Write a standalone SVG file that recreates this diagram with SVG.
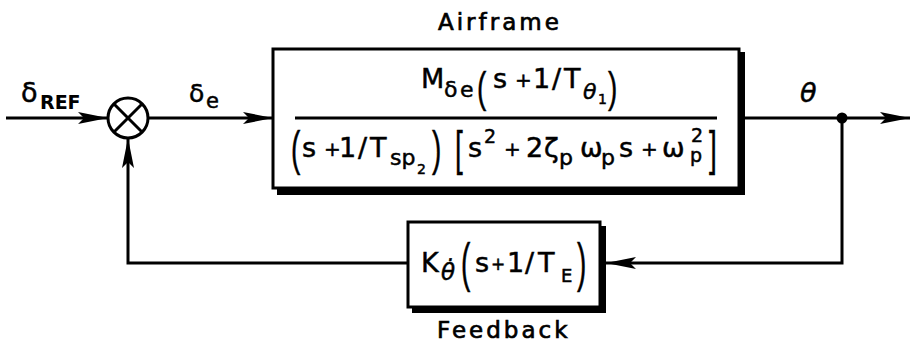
<svg xmlns="http://www.w3.org/2000/svg" width="912" height="346" viewBox="0 0 912 346">
<defs>
<marker id="arr" markerUnits="userSpaceOnUse" markerWidth="32" markerHeight="16" refX="30" refY="8" orient="auto">
<path d="M0,2 L30,8 L0,14 L6,8 Z" fill="#000"/>
</marker>
</defs>
<style>
.ln{fill:none;stroke:#000;stroke-width:3}
.bx{fill:#fff;stroke:#000;stroke-width:3}
text{font-family:"DejaVu Sans","Liberation Sans",sans-serif;fill:#000;stroke:#000;stroke-width:0.5}
.t{font-size:27px}
.s{font-size:22px}
.ss{font-size:14px}
.sp{font-size:19px}
.pl{font-size:20px}
.it{font-style:italic}
.p{font-family:"Liberation Sans","DejaVu Sans",sans-serif;font-size:28px;stroke-width:0.3}
.lab{font-size:23px;letter-spacing:3px;stroke-width:0.7}
</style>
<rect width="912" height="346" fill="#fff"/>
<g id="connectors">
<line class="ln" x1="6" y1="118" x2="108" y2="118" marker-end="url(#arr)"/>
<line class="ln" x1="148" y1="118" x2="273" y2="118" marker-end="url(#arr)"/>
<line class="ln" x1="745" y1="118" x2="910" y2="118" marker-end="url(#arr)"/>
<polyline class="ln" points="842,118 842,263 606,263" marker-end="url(#arr)"/>
<polyline class="ln" points="408,263 128,263 128,138" marker-end="url(#arr)"/>
<circle cx="842" cy="118" r="5.5" fill="#000"/>
</g>
<g id="sum">
<circle cx="128" cy="118" r="20" fill="#fff" stroke="#000" stroke-width="3"/>
<line class="ln" x1="114" y1="104" x2="142" y2="132"/>
<line class="ln" x1="142" y1="104" x2="114" y2="132"/>
</g>
<g id="labels">
<text class="t"><tspan x="21" y="102">δ</tspan><tspan x="40" y="109" font-size="19" font-weight="bold" stroke-width="0">REF</tspan></text>
<text class="t"><tspan x="189" y="102" font-size="25">δ</tspan><tspan x="206" y="108" font-size="21">e</tspan></text>
<text class="t it" x="800" y="102" font-size="30">θ</text>
</g>
<g id="airframe">
<rect class="bx" x="273" y="49" width="466" height="139"/>
<path d="M739,52 H745 V195 H277 V188 H739 Z" fill="#000"/>
<text class="lab" x="438" y="30">Airframe</text>
<line x1="295" y1="118" x2="717" y2="118" stroke="#000" stroke-width="3"/>
<text class="t"><tspan x="421" y="88">M</tspan><tspan class="s" x="444" y="97">δ</tspan><tspan class="s" x="460" y="97">e</tspan><tspan x="493" y="88">s</tspan><tspan class="pl" x="515" y="87">+</tspan><tspan x="533" y="88">1</tspan><tspan x="552" y="88">/</tspan><tspan x="564" y="88">T</tspan><tspan class="s it" x="583" y="99">θ</tspan><tspan class="ss" x="598" y="104">1</tspan></text>
<text class="p" transform="translate(477,101.6) scale(1,1.55)">(</text>
<text class="p" transform="translate(608,101.6) scale(1,1.55)">)</text>
<text class="t"><tspan x="302" y="157">s</tspan><tspan class="pl" x="324" y="156">+</tspan><tspan x="339" y="157">1</tspan><tspan x="358" y="157">/</tspan><tspan x="370" y="157">T</tspan><tspan class="s" x="390" y="165">sp</tspan><tspan class="ss" x="417" y="174">2</tspan><tspan x="468" y="157">s</tspan><tspan class="sp" x="484" y="143">2</tspan><tspan class="pl" x="504" y="156">+</tspan><tspan x="526" y="157">2</tspan><tspan x="544" y="157">ζ</tspan><tspan class="s" x="559" y="165">p</tspan><tspan x="580" y="157">ω</tspan><tspan class="s" x="601" y="165">p</tspan><tspan x="619" y="157">s</tspan><tspan class="pl" x="641" y="156">+</tspan><tspan x="662" y="157">ω</tspan><tspan class="sp" x="691" y="142">2</tspan><tspan class="sp" x="690" y="162">p</tspan></text>
<text class="p" transform="translate(291,164.7) scale(1,1.7)">(</text>
<text class="p" transform="translate(432,164.7) scale(1,1.7)">)</text>
<text class="p" transform="translate(455,164.7) scale(1,1.7)">[</text>
<text class="p" transform="translate(709,164.7) scale(1,1.7)">]</text>
</g>
<g id="feedback">
<rect class="bx" x="408" y="222" width="192" height="85"/>
<path d="M600,226 H606 V313 H412 V307 H600 Z" fill="#000"/>
<text class="t"><tspan x="421" y="272">K</tspan><tspan class="it" font-size="23" x="441" y="280">θ̇</tspan><tspan x="475" y="272">s</tspan><tspan font-size="17" x="491" y="270">+</tspan><tspan x="507" y="272">1</tspan><tspan x="525" y="272">/</tspan><tspan x="538" y="272">T</tspan><tspan font-size="18" x="561" y="282">E</tspan></text>
<text class="p" transform="translate(461,280.8) scale(1,1.9)">(</text>
<text class="p" transform="translate(577,280.8) scale(1,1.9)">)</text>
<text class="lab" x="437" y="338">Feedback</text>
</g>
</svg>
